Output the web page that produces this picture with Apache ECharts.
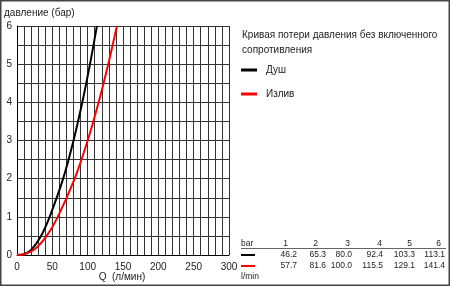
<!DOCTYPE html>
<html>
<head>
<meta charset="utf-8">
<script src="https://cdn.jsdelivr.net/npm/echarts@6/dist/echarts.min.js"></script>
<style>
html,body{margin:0;padding:0;background:#fff;}
#c{width:450px;height:286px;}
</style>
</head>
<body>
<div id="c"></div>
<script>
// Data
var seriesNames = ['Душ', 'Излив'];
var seriesColors = ['#000000', '#ff0000'];
var dushQ = [0, 10, 20, 34, 46.2, 65.3, 80.0, 92.4, 103.3, 113.1];
var dushP = [0, 0.02, 0.13, 0.5, 1, 2, 3, 4, 5, 6];
var izlivQ = [0, 10, 25, 42, 57.7, 81.6, 100.0, 115.5, 129.1, 141.4];
var izlivP = [0, 0.02, 0.15, 0.5, 1, 2, 3, 4, 5, 6];
var tableHeader = ['1', '2', '3', '4', '5', '6'];
var tableDush = ['46.2', '65.3', '80.0', '92.4', '103.3', '113.1'];
var tableIzliv = ['57.7', '81.6', '100.0', '115.5', '129.1', '141.4'];
var titleLines = ['Кривая потери давления без включенного', 'сопротивления'];
var yName = 'давление (бар)';
var xName = 'Q  (л/мин)';

function pairs(a, b) { return a.map(function (v, i) { return [v, b[i]]; }); }

var FONT = '"Liberation Sans", Arial, sans-serif';
var chart = echarts.init(document.getElementById('c'));

var headerRight = [288, 318, 350, 382, 412, 441];
var valueRight = [297, 326, 352, 383, 415, 445];
var graphics = [];
graphics.push({type: 'rect', shape: {x: 0.75, y: 0.75, width: 448.5, height: 284.5}, style: {fill: 'none', stroke: '#444', lineWidth: 1.5}, z: 100});
graphics.push({type: 'text', left: 4, top: 8, style: {text: yName, font: '10px ' + FONT, fill: '#222'}});
graphics.push({type: 'text', x: 122, y: 277, style: {text: xName, font: '10px ' + FONT, fill: '#222', align: 'center', verticalAlign: 'middle'}});
titleLines.forEach(function (t, i) {
  graphics.push({type: 'text', x: 242, y: 35 + i * 15, style: {text: t, font: '10px ' + FONT, fill: '#222', verticalAlign: 'middle'}});
});
// table
graphics.push({type: 'text', x: 241, y: 244, style: {text: 'bar', font: '8.5px ' + FONT, fill: '#222', verticalAlign: 'middle'}});
graphics.push({type: 'line', shape: {x1: 241, y1: 248.5, x2: 446, y2: 248.5}, style: {stroke: '#666', lineWidth: 1}});
graphics.push({type: 'rect', shape: {x: 241, y: 254, width: 14, height: 2}, style: {fill: seriesColors[0]}});
graphics.push({type: 'rect', shape: {x: 241, y: 265, width: 14, height: 2}, style: {fill: seriesColors[1]}});
graphics.push({type: 'text', x: 241, y: 277, style: {text: 'l/min', font: '8.5px ' + FONT, fill: '#222', verticalAlign: 'middle'}});
tableHeader.forEach(function (t, i) {
  graphics.push({type: 'text', x: headerRight[i], y: 244, style: {text: t, font: '8.5px ' + FONT, fill: '#222', align: 'right', verticalAlign: 'middle'}});
});
tableDush.forEach(function (t, i) {
  graphics.push({type: 'text', x: valueRight[i], y: 255, style: {text: t, font: '8.5px ' + FONT, fill: '#222', align: 'right', verticalAlign: 'middle'}});
});
tableIzliv.forEach(function (t, i) {
  graphics.push({type: 'text', x: valueRight[i], y: 266, style: {text: t, font: '8.5px ' + FONT, fill: '#222', align: 'right', verticalAlign: 'middle'}});
});

chart.setOption({
  animation: false,
  backgroundColor: '#fff',
  grid: {left: 17, top: 26, width: 212, height: 229, containLabel: false},
  legend: {
    orient: 'vertical', left: 241, top: 65, padding: 0, itemWidth: 16, itemHeight: 3, itemGap: 14,
    icon: 'rect', data: seriesNames,
    textStyle: {fontSize: 10, fontFamily: FONT, color: '#222', padding: [0, 0, 0, 4]}
  },
  xAxis: {
    type: 'value', min: 0, max: 300, interval: 10,
    axisLine: {show: true, lineStyle: {color: '#000', width: 1}},
    axisTick: {show: false},
    splitLine: {show: true, lineStyle: {color: '#333', width: 1}},
    axisLabel: {
      margin: 7, fontSize: 10, fontFamily: FONT, color: '#222',
      formatter: function (v) { return v % 50 === 0 ? String(v) : ''; }
    }
  },
  yAxis: {
    type: 'value', min: 0, max: 6, interval: 0.5,
    axisLine: {show: true, lineStyle: {color: '#000', width: 1}},
    axisTick: {show: false},
    splitLine: {show: true, lineStyle: {color: '#333', width: 1}},
    axisLabel: {
      margin: 5, fontSize: 10, fontFamily: FONT, color: '#222',
      formatter: function (v) { return v % 1 === 0 ? String(v) : ''; }
    }
  },
  series: [
    {name: seriesNames[0], type: 'line', smooth: 0.3, symbol: 'none', data: pairs(dushQ, dushP), lineStyle: {color: seriesColors[0], width: 2}, itemStyle: {color: seriesColors[0]}},
    {name: seriesNames[1], type: 'line', smooth: 0.3, symbol: 'none', data: pairs(izlivQ, izlivP), lineStyle: {color: seriesColors[1], width: 2}, itemStyle: {color: seriesColors[1]}}
  ],
  graphic: graphics
});
</script>
</body>
</html>
